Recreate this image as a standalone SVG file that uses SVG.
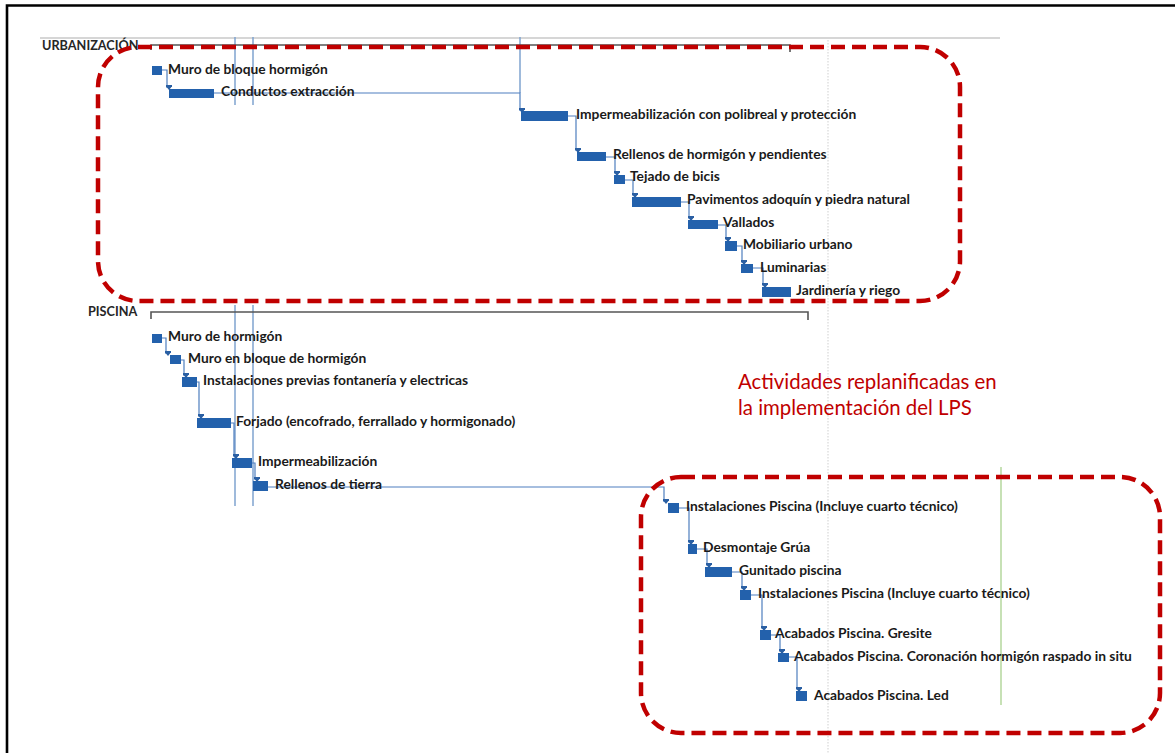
<svg xmlns="http://www.w3.org/2000/svg" width="1175" height="753" viewBox="0 0 1175 753">
  <defs>
    <marker id="arr" markerUnits="userSpaceOnUse" markerWidth="8" markerHeight="6" refX="4" refY="5" orient="auto-start-reverse" viewBox="0 0 8 6">
      <path d="M0,0 L8,0 L4,5 Z" fill="#2a5fa3" transform="rotate(-90 4 3)"/>
    </marker>
    <style>
      .bar { fill: #2361ac; }
      .lnk { fill: none; stroke: #4f7fbf; stroke-width: 1.2; }
      .vl { stroke: #7fa3cf; stroke-width: 1.5; }
      .lbl { font-family: Lato, "Open Sans", "Liberation Sans", sans-serif; font-weight: bold; font-size: 13.8px; fill: #1a1a1a; }
      .sum { font-family: Lato, "Liberation Sans", sans-serif; font-weight: bold; font-size: 12.7px; fill: #262626; }
      .brk { fill: none; stroke: #555; stroke-width: 1.6; }
      .zone { fill: none; stroke: #c00000; stroke-width: 4.5; stroke-dasharray: 14 7; }
      .note { font-family: Lato, "Open Sans", "Liberation Sans", sans-serif; font-size: 20.4px; fill: #c00000; }
    </style>
  </defs>

  <rect x="0" y="0" width="1175" height="753" fill="#ffffff"/>
  <!-- frame -->
  <path d="M7,753 V5.5 H1175" fill="none" stroke="#000" stroke-width="2.6"/>

  <!-- timescale rule and grid -->
  <line x1="40" y1="38" x2="1000" y2="38" stroke="#c8c8c8" stroke-width="1.5"/>
  <line x1="828" y1="40" x2="828" y2="753" stroke="#cfcfcf" stroke-width="1" stroke-dasharray="1.5 1.5"/>
  <line x1="1001" y1="467" x2="1001" y2="705" stroke="#a9d18e" stroke-width="1.3"/>

  <!-- status / progress lines -->
  <g id="progress-lines">
    <line class="vl" x1="235" y1="37" x2="235" y2="105"/>
    <line class="vl" x1="253" y1="37" x2="253" y2="105"/>
    <line class="vl" x1="235" y1="305" x2="235" y2="506"/>
    <line class="vl" x1="253" y1="305" x2="253" y2="506"/>
    <line class="vl" x1="520" y1="37" x2="520" y2="93"/>
  </g>

  <!-- summary tasks -->
  <g id="summary-urbanizacion">
    <text class="sum" x="42" y="50">URBANIZACIÓN</text>
    <path class="brk" d="M151,50 V45 H790 V52"/>
  </g>
  <g id="summary-piscina">
    <text class="sum" x="88" y="316">PISCINA</text>
    <path class="brk" d="M151,319 V312 H808 V320"/>
  </g>

  <!-- links -->
  <g id="connectors">
    <path class="lnk" marker-end="url(#arr)" d="M162,70 H167 V88"/>
    <path class="lnk" marker-end="url(#arr)" d="M214,93 H520 V111"/>
    <path class="lnk" marker-end="url(#arr)" d="M568,116 H576 V151"/>
    <path class="lnk" marker-end="url(#arr)" d="M606,157 H615 V174"/>
    <path class="lnk" marker-end="url(#arr)" d="M625,180 H633 V196"/>
    <path class="lnk" marker-end="url(#arr)" d="M681,202 H689 V219"/>
    <path class="lnk" marker-end="url(#arr)" d="M718,225 H726 V240"/>
    <path class="lnk" marker-end="url(#arr)" d="M737,246 H742 V263"/>
    <path class="lnk" marker-end="url(#arr)" d="M753,268 H763 V286"/>

    <path class="lnk" marker-end="url(#arr)" d="M162,338 H166 V354"/>
    <path class="lnk" marker-end="url(#arr)" d="M181,360 H184 V376"/>
    <path class="lnk" marker-end="url(#arr)" d="M197,382 H199 V417"/>
    <path class="lnk" marker-end="url(#arr)" d="M231,423 H234 V457"/>
    <path class="lnk" marker-end="url(#arr)" d="M252,463 H255 V480"/>
    <path class="lnk" marker-end="url(#arr)" d="M268,487 H664 V502"/>
    <path class="lnk" marker-end="url(#arr)" d="M679,508 H689 V543"/>
    <path class="lnk" marker-end="url(#arr)" d="M697,549 H707 V566"/>
    <path class="lnk" marker-end="url(#arr)" d="M732,572 H742 V589"/>
    <path class="lnk" marker-end="url(#arr)" d="M751,595 H762 V629"/>
    <path class="lnk" marker-end="url(#arr)" d="M771,635 H780 V652"/>
    <path class="lnk" marker-end="url(#arr)" d="M789,657 H797 V690"/>
  </g>

  <!-- URBANIZACIÓN tasks -->
  <g id="t-muro-bloque"><rect class="bar" x="152" y="66" width="10" height="9"/><text class="lbl" x="168" y="74">Muro de bloque hormigón</text></g>
  <g id="t-conductos"><rect class="bar" x="169" y="89" width="45" height="9"/><text class="lbl" x="221" y="96">Conductos extracción</text></g>
  <g id="t-impermeabilizacion-polibreal"><rect class="bar" x="521" y="111" width="47" height="10"/><text class="lbl" x="576" y="119">Impermeabilización con polibreal y protección</text></g>
  <g id="t-rellenos-hormigon"><rect class="bar" x="577" y="152" width="29" height="9"/><text class="lbl" x="613" y="159">Rellenos de hormigón y pendientes</text></g>
  <g id="t-tejado"><rect class="bar" x="614" y="175" width="11" height="9"/><text class="lbl" x="630" y="181">Tejado de bicis</text></g>
  <g id="t-pavimentos"><rect class="bar" x="632" y="197" width="49" height="10"/><text class="lbl" x="687" y="204">Pavimentos adoquín y piedra natural</text></g>
  <g id="t-vallados"><rect class="bar" x="688" y="220" width="30" height="9"/><text class="lbl" x="723" y="227">Vallados</text></g>
  <g id="t-mobiliario"><rect class="bar" x="725" y="241" width="12" height="10"/><text class="lbl" x="743" y="249">Mobiliario urbano</text></g>
  <g id="t-luminarias"><rect class="bar" x="741" y="264" width="12" height="9"/><text class="lbl" x="760" y="272">Luminarias</text></g>
  <g id="t-jardineria"><rect class="bar" x="762" y="287" width="29" height="10"/><text class="lbl" x="796" y="295">Jardinería y riego</text></g>

  <!-- PISCINA tasks -->
  <g id="t-muro-hormigon"><rect class="bar" x="152" y="334" width="10" height="9"/><text class="lbl" x="168" y="341">Muro de hormigón</text></g>
  <g id="t-muro-bloque-hormigon"><rect class="bar" x="170" y="355" width="11" height="9"/><text class="lbl" x="188" y="363">Muro en bloque de hormigón</text></g>
  <g id="t-instalaciones-previas"><rect class="bar" x="182" y="377" width="15" height="10"/><text class="lbl" x="203" y="385">Instalaciones previas fontanería y electricas</text></g>
  <g id="t-forjado"><rect class="bar" x="197" y="418" width="34" height="10"/><text class="lbl" x="236" y="426">Forjado (encofrado, ferrallado y hormigonado)</text></g>
  <g id="t-impermeabilizacion"><rect class="bar" x="232" y="458" width="20" height="10"/><text class="lbl" x="258" y="466">Impermeabilización</text></g>
  <g id="t-rellenos-tierra"><rect class="bar" x="253" y="481" width="15" height="10"/><text class="lbl" x="275" y="489">Rellenos de tierra</text></g>
  <g id="t-instalaciones-piscina-1"><rect class="bar" x="668" y="503" width="11" height="10"/><text class="lbl" x="686" y="511">Instalaciones Piscina (Incluye cuarto técnico)</text></g>
  <g id="t-desmontaje-grua"><rect class="bar" x="688" y="544" width="9" height="10"/><text class="lbl" x="703" y="552">Desmontaje Grúa</text></g>
  <g id="t-gunitado"><rect class="bar" x="705" y="567" width="27" height="10"/><text class="lbl" x="739" y="575">Gunitado piscina</text></g>
  <g id="t-instalaciones-piscina-2"><rect class="bar" x="740" y="590" width="11" height="10"/><text class="lbl" x="758" y="598">Instalaciones Piscina (Incluye cuarto técnico)</text></g>
  <g id="t-gresite"><rect class="bar" x="760" y="630" width="11" height="10"/><text class="lbl" x="775" y="638">Acabados Piscina. Gresite</text></g>
  <g id="t-coronacion"><rect class="bar" x="778" y="653" width="11" height="9"/><text class="lbl" x="794" y="661">Acabados Piscina. Coronación hormigón raspado in situ</text></g>
  <g id="t-led"><rect class="bar" x="796" y="691" width="11" height="10"/><text class="lbl" x="814" y="700">Acabados Piscina. Led</text></g>

  <!-- highlighted zones -->
  <g id="zone-urbanizacion"><rect class="zone" x="98" y="47" width="862" height="254" rx="40" ry="40"/></g>
  <g id="zone-piscina"><rect class="zone" x="641" y="477" width="519" height="256" rx="40" ry="40"/></g>

  <g id="note">
    <text class="note" x="738" y="389">Actividades replanificadas en</text>
    <text class="note" x="738" y="415">la implementación del LPS</text>
  </g>
</svg>
